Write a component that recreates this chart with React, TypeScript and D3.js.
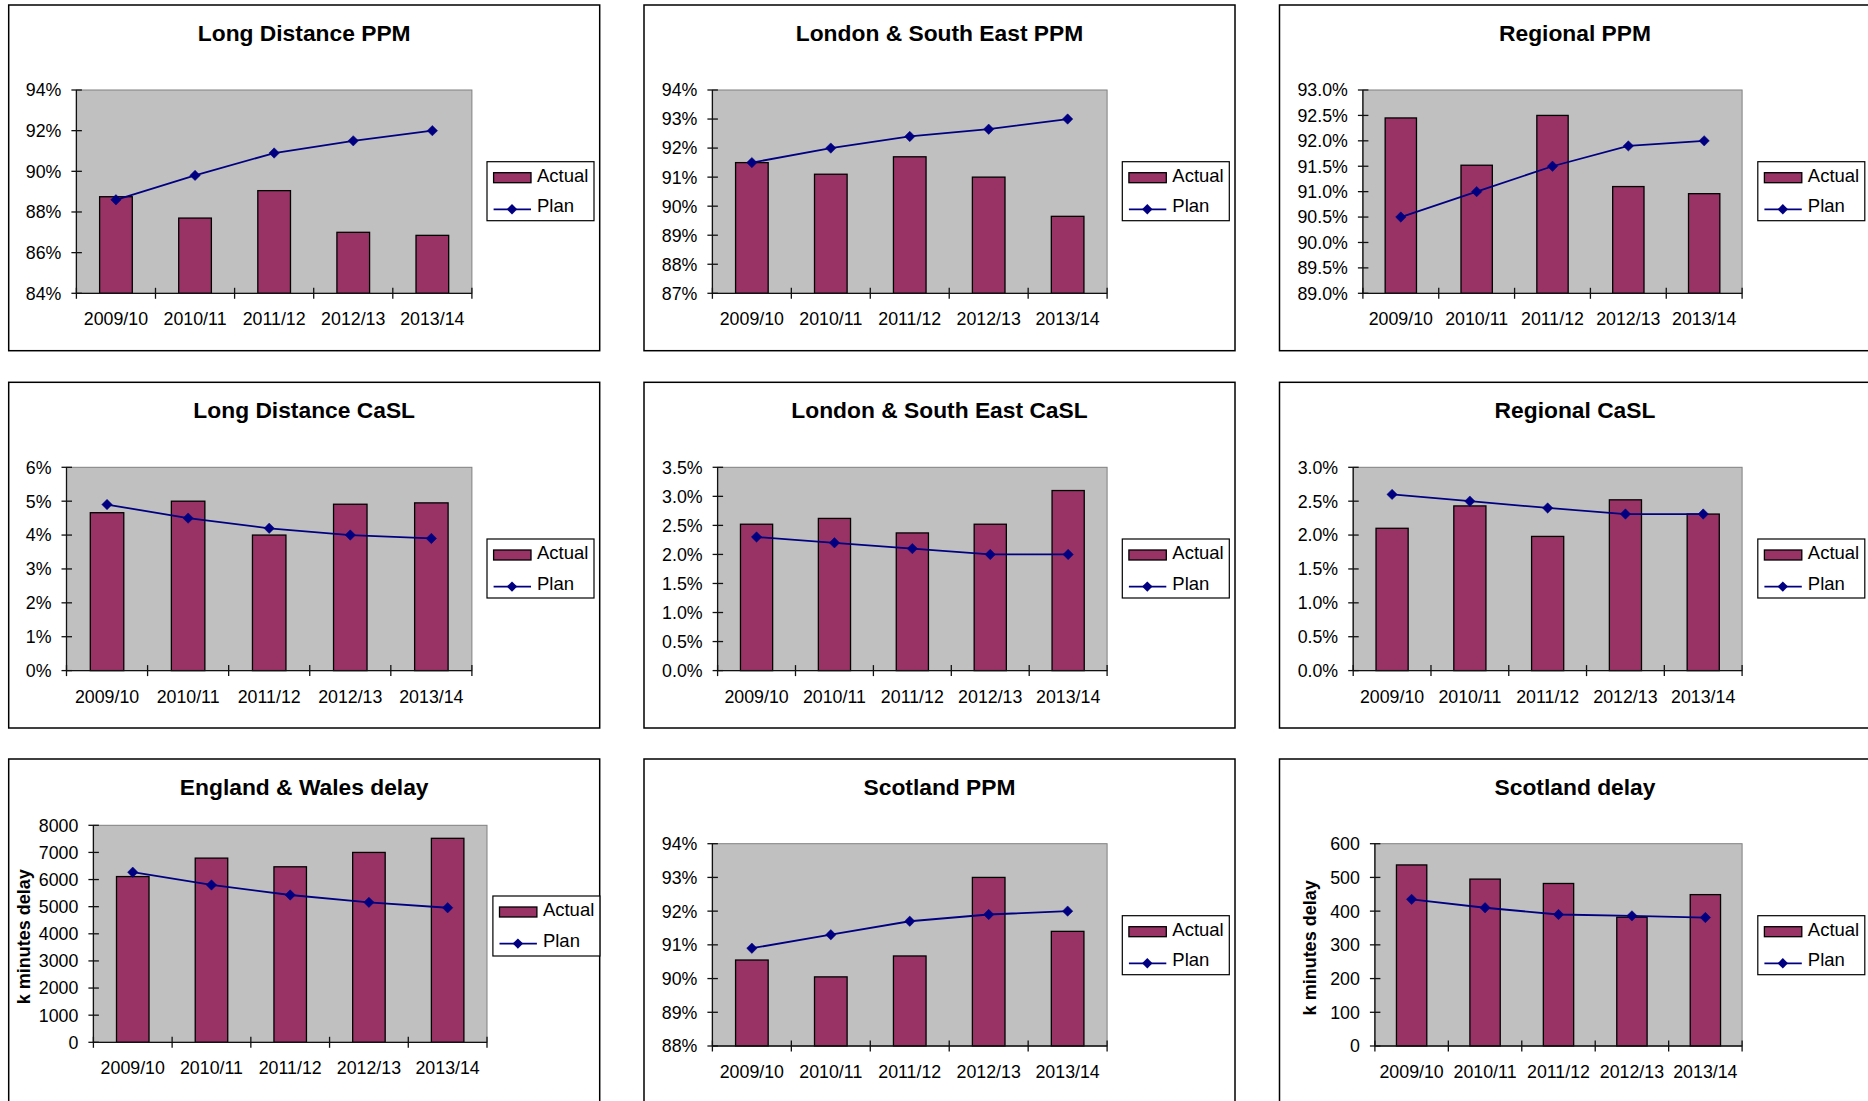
import React from "react";
import * as d3 from "d3";

// ---------- data ----------
const categories = ["2009/10", "2010/11", "2011/12", "2012/13", "2013/14"];

const ldPpmActual = [88.75, 87.7, 89.05, 87.0, 86.85];
const ldPpmPlan = [88.6, 89.8, 90.9, 91.5, 92.0];
const ldPpmTicks = [84, 86, 88, 90, 92, 94];

const lsePpmActual = [91.5, 91.1, 91.7, 91.0, 89.65];
const lsePpmPlan = [91.5, 92.0, 92.4, 92.65, 93.0];
const lsePpmTicks = [87, 88, 89, 90, 91, 92, 93, 94];

const regPpmActual = [92.45, 91.52, 92.5, 91.1, 90.96];
const regPpmPlan = [90.5, 91.0, 91.5, 91.9, 92.0];
const regPpmTicks = [89.0, 89.5, 90.0, 90.5, 91.0, 91.5, 92.0, 92.5, 93.0];

const ldCaslActual = [4.66, 5.0, 4.0, 4.91, 4.95];
const ldCaslPlan = [4.9, 4.5, 4.2, 4.0, 3.9];
const ldCaslTicks = [0, 1, 2, 3, 4, 5, 6];

const lseCaslActual = [2.52, 2.62, 2.37, 2.52, 3.1];
const lseCaslPlan = [2.3, 2.2, 2.1, 2.0, 2.0];
const lseCaslTicks = [0.0, 0.5, 1.0, 1.5, 2.0, 2.5, 3.0, 3.5];

const regCaslActual = [2.1, 2.43, 1.98, 2.52, 2.31];
const regCaslPlan = [2.6, 2.5, 2.4, 2.31, 2.31];
const regCaslTicks = [0.0, 0.5, 1.0, 1.5, 2.0, 2.5, 3.0];

const ewDelayActual = [6110, 6790, 6470, 7000, 7520];
const ewDelayPlan = [6270, 5800, 5430, 5160, 4960];
const ewDelayTicks = [0, 1000, 2000, 3000, 4000, 5000, 6000, 7000, 8000];

const scotPpmActual = [90.55, 90.05, 90.67, 93.0, 91.4];
const scotPpmPlan = [90.9, 91.3, 91.7, 91.9, 92.0];
const scotPpmTicks = [88, 89, 90, 91, 92, 93, 94];

const scotDelayActual = [537, 495, 482, 382, 449];
const scotDelayPlan = [435, 410, 390, 386, 381];
const scotDelayTicks = [0, 100, 200, 300, 400, 500, 600];

const legendLabels = ["Actual", "Plan"];
const delayAxisTitle = "k minutes delay";

// ---------- layout / style ----------
const W = 1868;
const H = 1101;
const colLeft = [8.7, 644, 1279.5];
const rowTop = [5, 382.3, 759];
const panelW = 591;
const panelH = 345.7;
const FONT = "'Liberation Sans', Arial, Helvetica, sans-serif";
const BAR = "#993366";
const PLAN = "#000080";
const MARK = 5.2;

const fmtInt = (v: number) => `${d3.format("d")(v)}%`;
const fmt1 = (v: number) => `${d3.format(".1f")(v)}%`;
const fmtNum = (v: number) => d3.format("d")(v);

type Spec = {
  title: string;
  actual: number[];
  plan: number[];
  ticks: number[];
  fmt: (v: number) => string;
  col: number;
  row: number;
  plot: { l: number; r: number; t: number; b: number };
  legend: { x: number; y: number; w: number; h: number };
  yTitle?: string;
  yTitleX?: number;
};

const stdLegend = { x: 478.3, y: 156.7, w: 107, h: 59 };
const stdPlotTB = { t: 85, b: 288.3 };
const row3PlotTB = { t: 84.7, b: 287 };

const specs: Spec[] = [
  { title: "Long Distance PPM", actual: ldPpmActual, plan: ldPpmPlan, ticks: ldPpmTicks, fmt: fmtInt, col: 0, row: 0, plot: { l: 67.7, r: 463.2, ...stdPlotTB }, legend: stdLegend },
  { title: "London & South East PPM", actual: lsePpmActual, plan: lsePpmPlan, ticks: lsePpmTicks, fmt: fmtInt, col: 1, row: 0, plot: { l: 68.4, r: 463.1, ...stdPlotTB }, legend: stdLegend },
  { title: "Regional PPM", actual: regPpmActual, plan: regPpmPlan, ticks: regPpmTicks, fmt: fmt1, col: 2, row: 0, plot: { l: 83.4, r: 462.6, ...stdPlotTB }, legend: stdLegend },
  { title: "Long Distance CaSL", actual: ldCaslActual, plan: ldCaslPlan, ticks: ldCaslTicks, fmt: fmtInt, col: 0, row: 1, plot: { l: 57.8, r: 463.2, ...stdPlotTB }, legend: stdLegend },
  { title: "London & South East CaSL", actual: lseCaslActual, plan: lseCaslPlan, ticks: lseCaslTicks, fmt: fmt1, col: 1, row: 1, plot: { l: 73.6, r: 463.1, ...stdPlotTB }, legend: stdLegend },
  { title: "Regional CaSL", actual: regCaslActual, plan: regCaslPlan, ticks: regCaslTicks, fmt: fmt1, col: 2, row: 1, plot: { l: 73.7, r: 462.6, ...stdPlotTB }, legend: stdLegend },
  { title: "England & Wales delay", actual: ewDelayActual, plan: ewDelayPlan, ticks: ewDelayTicks, fmt: fmtNum, col: 0, row: 2, plot: { l: 84.7, r: 478.3, t: 66.3, b: 283.3 }, legend: { x: 484.2, y: 137, w: 107, h: 60 }, yTitle: delayAxisTitle, yTitleX: 15 },
  { title: "Scotland PPM", actual: scotPpmActual, plan: scotPpmPlan, ticks: scotPpmTicks, fmt: fmtInt, col: 1, row: 2, plot: { l: 68.4, r: 463.1, ...row3PlotTB }, legend: stdLegend },
  { title: "Scotland delay", actual: scotDelayActual, plan: scotDelayPlan, ticks: scotDelayTicks, fmt: fmtNum, col: 2, row: 2, plot: { l: 95.4, r: 462.6, ...row3PlotTB }, legend: stdLegend, yTitle: delayAxisTitle, yTitleX: 30.2 },
];

const diamond = (cx: number, cy: number, r: number) =>
  `M${cx},${cy - r}L${cx + r},${cy}L${cx},${cy + r}L${cx - r},${cy}Z`;

function Panel({ spec }: { spec: Spec }) {
  const x0 = colLeft[spec.col];
  const y0 = rowTop[spec.row];
  const { l, r, t, b } = spec.plot;
  const x = d3.scaleBand<string>().domain(categories).range([x0 + l, x0 + r]).padding(0);
  const y = d3
    .scaleLinear()
    .domain([spec.ticks[0], spec.ticks[spec.ticks.length - 1]])
    .range([y0 + b, y0 + t]);
  const bw = x.bandwidth() * 0.413;
  const cx = (c: string) => (x(c) as number) + x.bandwidth() / 2;
  const line = d3
    .line<number>()
    .x((_, i) => cx(categories[i]))
    .y((d) => y(d));
  const left = x0 + l;
  const right = x0 + r;
  const top = y0 + t;
  const bottom = y0 + b;
  const boundaries = d3.range(categories.length + 1).map((i) => left + i * x.bandwidth());
  const lg = spec.legend;
  const lx = x0 + lg.x;
  const ly = y0 + lg.y;

  return (
    <g>
      <rect x={x0} y={y0} width={panelW} height={panelH} fill="#fff" stroke="#000" strokeWidth={1.5} />
      <text x={x0 + panelW / 2} y={y0 + 36} textAnchor="middle" fontFamily={FONT} fontWeight="bold" fontSize={22.8} fill="#000">
        {spec.title}
      </text>
      {/* plot area */}
      <rect x={left} y={top} width={right - left} height={bottom - top} fill="#C0C0C0" stroke="#808080" strokeWidth={1} />
      {/* bars */}
      {spec.actual.map((v, i) => (
        <rect
          key={i}
          x={cx(categories[i]) - bw / 2}
          y={y(v)}
          width={bw}
          height={bottom - y(v)}
          fill={BAR}
          stroke="#000"
          strokeWidth={1.3}
        />
      ))}
      {/* axes */}
      <line x1={left} x2={left} y1={top} y2={bottom} stroke="#111" strokeWidth={1.3} />
      <line x1={left} x2={right} y1={bottom} y2={bottom} stroke="#111" strokeWidth={1.3} />
      {spec.ticks.map((tv, i) => (
        <g key={i}>
          <line x1={left - 5} x2={left + 5.5} y1={y(tv)} y2={y(tv)} stroke="#111" strokeWidth={1.3} />
          <text x={left - 15} y={y(tv)} dy="0.36em" textAnchor="end" fontFamily={FONT} fontSize={17.8} fill="#000">
            {spec.fmt(tv)}
          </text>
        </g>
      ))}
      {boundaries.map((bx, i) => (
        <line key={i} x1={bx} x2={bx} y1={bottom - 5.5} y2={bottom + 5.5} stroke="#111" strokeWidth={1.3} />
      ))}
      {categories.map((c) => (
        <text key={c} x={cx(c)} y={bottom + 32} textAnchor="middle" fontFamily={FONT} fontSize={17.8} fill="#000">
          {c}
        </text>
      ))}
      {/* plan line */}
      <path d={line(spec.plan) || ""} fill="none" stroke={PLAN} strokeWidth={1.8} />
      {spec.plan.map((v, i) => (
        <path key={i} d={diamond(cx(categories[i]), y(v), MARK)} fill={PLAN} stroke={PLAN} strokeWidth={0.5} />
      ))}
      {/* y title */}
      {spec.yTitle && (
        <text
          transform={`translate(${x0 + (spec.yTitleX || 0)},${(top + bottom) / 2 + 3}) rotate(-90)`}
          dy="0.35em"
          textAnchor="middle"
          fontFamily={FONT}
          fontWeight="bold"
          fontSize={18}
          fill="#000"
        >
          {spec.yTitle}
        </text>
      )}
      {/* legend */}
      <rect x={lx} y={ly} width={lg.w} height={lg.h} fill="#fff" stroke="#000" strokeWidth={1.2} />
      <rect x={lx + 6.6} y={ly + 11} width={37.4} height={10} fill={BAR} stroke="#000" strokeWidth={1.3} />
      <text x={lx + 50} y={ly + 20.3} fontFamily={FONT} fontSize={18.5} fill="#000">
        {legendLabels[0]}
      </text>
      <line x1={lx + 6.6} x2={lx + 44} y1={ly + 47.6} y2={ly + 47.6} stroke={PLAN} strokeWidth={1.8} />
      <path d={diamond(lx + 25, ly + 47.6, MARK)} fill={PLAN} />
      <text x={lx + 50} y={ly + 50.6} fontFamily={FONT} fontSize={18.5} fill="#000">
        {legendLabels[1]}
      </text>
    </g>
  );
}

export default function App() {
  return (
    <svg
      width={W}
      height={H}
      viewBox={`0 0 ${W} ${H}`}
      style={{ position: "absolute", left: 0, top: 0, background: "#fff", display: "block" }}
    >
      <rect x={0} y={0} width={W} height={H} fill="#fff" />
      {specs.map((s, i) => (
        <Panel key={i} spec={s} />
      ))}
    </svg>
  );
}
